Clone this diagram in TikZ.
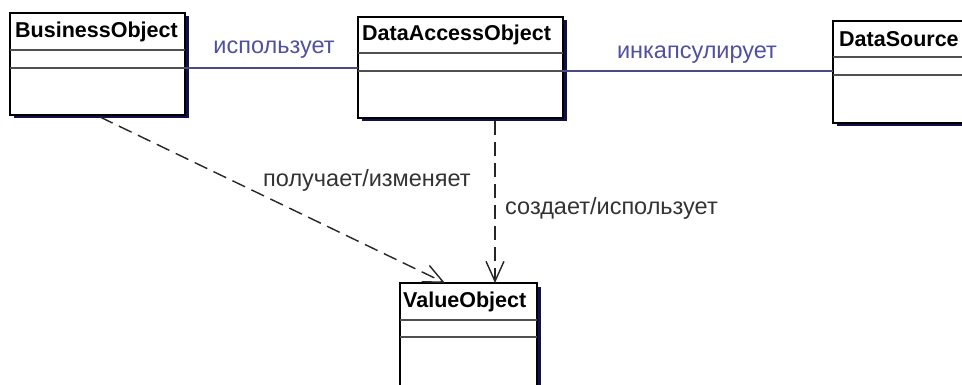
\documentclass[tikz,border=0pt]{standalone}
\usepackage{fontspec}
\setmainfont{Liberation Sans}
\usetikzlibrary{arrows.meta,shadows,calc}
\definecolor{shadowc}{HTML}{10104A}
\definecolor{assoc}{HTML}{4A4A84}
\definecolor{assoctext}{HTML}{5050A0}
\definecolor{sepc}{HTML}{505050}
\tikzset{
  umlclass/.style={draw=black, line width=1.4pt, fill=white, anchor=north west,
    inner sep=0pt, outer sep=0pt,
    drop shadow={fill=shadowc, opacity=1, shadow xshift=3.5pt, shadow yshift=-3.5pt}},
  classname/.style={anchor=west, inner sep=0pt, font=\fontsize{21.5}{24}\selectfont\bfseries},
  sepline/.style={draw=sepc, line width=1.5pt},
  assocline/.style={draw=assoc, line width=1.4pt},
  assoclabel/.style={text=assoctext, inner sep=0pt, font=\fontsize{23.5}{26}\selectfont},
  deplabel/.style={text=black!80, inner sep=0pt, anchor=west, font=\fontsize{23.5}{26}\selectfont},
  depline/.style={draw=black!85, line width=1.4pt, dash pattern=on 14pt off 7pt,
    -{Straight Barb[length=20pt,width=18pt,line width=1.4pt]}}
}
\begin{document}
\begin{tikzpicture}[x=1pt,y=-1pt]
  \clip (0,0) rectangle (962,385);
  \fill[white] (0,0) rectangle (962,385);

  % class boxes
  \node[umlclass, minimum width=175pt, minimum height=102pt] (bo)  at (10,13)  {};
  \node[umlclass, minimum width=205pt, minimum height=101pt] (dao) at (358,17) {};
  \node[umlclass, minimum width=160pt, minimum height=102pt] (ds)  at (833,21) {};
  \node[umlclass, minimum width=137pt, minimum height=140pt] (vo)  at (400,283) {};

  % compartments
  \draw[sepline] ($(bo.north west)+(0,37)$)  -- ($(bo.north east)+(0,37)$);
  \draw[sepline] ($(bo.north west)+(0,55)$)  -- ($(bo.north east)+(0,55)$);
  \draw[sepline] ($(dao.north west)+(0,36)$) -- ($(dao.north east)+(0,36)$);
  \draw[sepline] ($(dao.north west)+(0,54)$) -- ($(dao.north east)+(0,54)$);
  \draw[sepline] ($(ds.north west)+(0,36)$)  -- ($(ds.north east)+(0,36)$);
  \draw[sepline] ($(ds.north west)+(0,54)$)  -- ($(ds.north east)+(0,54)$);
  \draw[sepline] ($(vo.north west)+(0,37)$)  -- ($(vo.north east)+(0,37)$);
  \draw[sepline] ($(vo.north west)+(0,54)$)  -- ($(vo.north east)+(0,54)$);

  % class names
  \node[classname] (bon)  at ($(bo.north west)+(5,19)$)  {BusinessObject};
  \node[classname] (daon) at ($(dao.north west)+(4,18)$) {DataAccessObject};
  \node[classname] (dsn)  at ($(ds.north west)+(6,18)$)  {DataSource};
  \node[classname] (von)  at ($(vo.north west)+(3,19)$)  {ValueObject};

  % associations
  \coordinate (a1) at (0,68);
  \coordinate (a2) at (0,71);
  \draw[assocline] (bo.east |- a1) -- (dao.west |- a1);
  \draw[assocline] (dao.east |- a2) -- (ds.west |- a2);
  \node[assoclabel] (l1) at (274,50) {использует};
  \node[assoclabel] (l2) at (697,55) {инкапсулирует};

  % dependencies
  \draw[depline] ($(bo.south west)+(90,2)$) -- ($(vo.north west)+(45,0)$);
  \draw[depline] ($(dao.south west)+(137,3)$) -- ($(vo.north west)+(95,0)$);
  \node[deplabel] (l3) at (263,180) {получает/изменяет};
  \node[deplabel] (l4) at (505,208) {создает/использует};
\end{tikzpicture}
\end{document}
